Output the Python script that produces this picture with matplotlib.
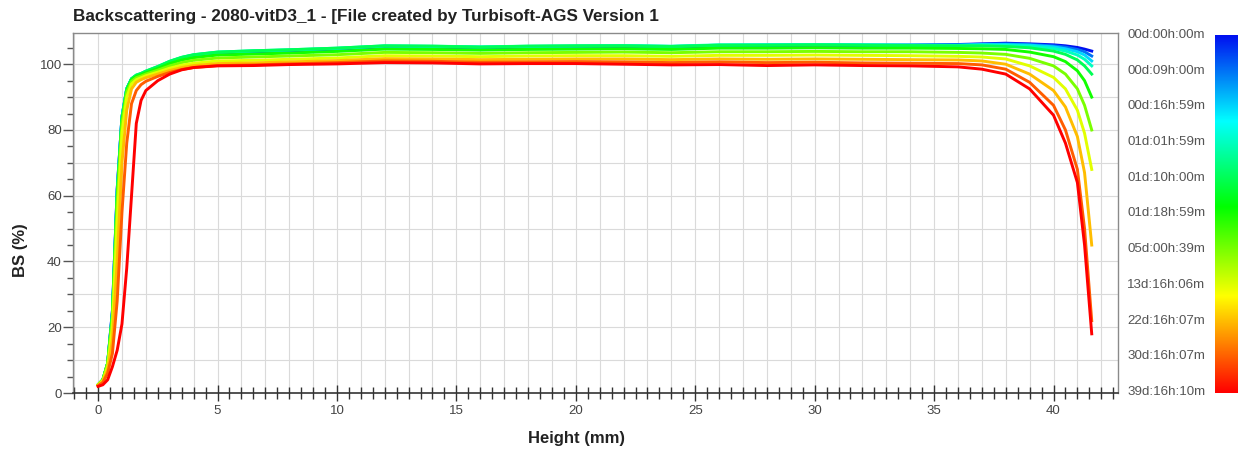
import numpy as np
import matplotlib
matplotlib.use("Agg")
import matplotlib.pyplot as plt
from matplotlib.colors import LinearSegmentedColormap
from matplotlib.ticker import MultipleLocator

plt.rcParams['font.family'] = ['Liberation Sans', 'DejaVu Sans']

# ---------------- data ----------------
title = "Backscattering - 2080-vitD3_1 - [File created by Turbisoft-AGS Version 1"

time_labels = ["00d:00h:00m", "00d:09h:00m", "00d:16h:59m", "01d:01h:59m",
               "01d:10h:00m", "01d:18h:59m", "05d:00h:39m", "13d:16h:06m",
               "22d:16h:07m", "30d:16h:07m", "39d:16h:10m"]

height_mm = [0, 0.2, 0.4, 0.6, 0.8, 1.0, 1.2, 1.4, 1.6, 1.8, 2.0, 2.5, 3.0, 3.5, 4.0,
             5.0, 6.5, 8.0, 10.0, 12.0, 14.0, 16.0, 18.0, 20.0, 22.0, 24.0, 26.0, 28.0,
             30.0, 32.0, 34.0, 36.0, 37.0, 38.0, 39.0, 40.0, 40.5, 41.0, 41.3, 41.6]

bs_00d00h = [2.5, 4, 9, 25, 62, 84, 92.5, 95.5, 96.5, 97, 97.6, 99, 100.6, 101.8, 102.6,
             103.4, 103.8, 104.1, 104.6, 105.3, 105.2, 105.0, 105.2, 105.3, 105.4, 105.2,
             105.6, 105.7, 105.8, 105.7, 105.8,
             106.0, 106.2, 106.4, 106.2, 105.9, 105.6, 105.1, 104.6, 104.0]
bs_00d09h = [2.5, 4, 9, 25, 62, 84, 92.5, 95.5, 96.5, 97, 97.7, 99.1, 100.7, 101.9, 102.7,
             103.5, 103.9, 104.2, 104.7, 105.4, 105.3, 105.1, 105.3, 105.4, 105.5, 105.3,
             105.7, 105.8, 105.9, 105.8, 105.8,
             105.9, 106.1, 106.2, 106.0, 105.6, 105.2, 104.5, 103.8, 102.5]
bs_00d17h = [2.5, 4, 9, 24, 61, 84, 92.5, 95.5, 96.6, 97.1, 97.8, 99.2, 100.8, 102.0, 102.8,
             103.6, 104.0, 104.3, 104.8, 105.5, 105.4, 105.2, 105.4, 105.5, 105.6, 105.4,
             105.8, 105.9, 106.0, 105.9, 105.8,
             105.8, 106.0, 106.0, 105.8, 105.3, 104.7, 103.8, 102.8, 101.0]
bs_01d02h = [2.5, 4, 9, 24, 61, 84, 92.6, 95.6, 96.7, 97.2, 97.9, 99.3, 100.9, 102.1, 102.9,
             103.7, 104.1, 104.4, 104.9, 105.6, 105.5, 105.3, 105.5, 105.6, 105.7, 105.5,
             105.9, 105.9, 106.0, 105.9, 105.8,
             105.7, 105.8, 105.7, 105.5, 104.8, 104.0, 102.8, 101.5, 99.5]
bs_01d10h = [2.5, 4, 9, 24, 60, 83, 92.5, 95.6, 96.7, 97.2, 97.9, 99.3, 100.9, 102.1, 102.9,
             103.7, 104.1, 104.4, 104.9, 105.6, 105.5, 105.2, 105.5, 105.6, 105.6, 105.4,
             105.8, 105.8, 105.9, 105.8, 105.7,
             105.6, 105.6, 105.4, 105.0, 104.0, 103.0, 101.3, 99.5, 97.0]
bs_01d19h = [2.5, 4, 9, 23, 59, 83, 92, 95.2, 96.3, 96.8, 97.4, 98.7, 100.2, 101.3, 102.0,
             102.8, 103.1, 103.4, 103.9, 104.6, 104.5, 104.3, 104.5, 104.6, 104.7, 104.5,
             104.9, 104.9, 105.0, 104.9, 104.9,
             104.8, 104.7, 104.5, 103.7, 102.3, 100.8, 98.0, 95.0, 90.0]
bs_05d01h = [2.5, 4, 9, 23, 58, 82, 91.5, 94.8, 95.9, 96.4, 97.0, 98.2, 99.5, 100.5, 101.2,
             101.9, 102.2, 102.5, 102.9, 103.6, 103.5, 103.3, 103.5, 103.6, 103.7, 103.5,
             103.8, 103.8, 103.9, 103.8, 103.8,
             103.6, 103.4, 103.0, 101.8, 99.5, 97.0, 92.5, 87.5, 80.0]
bs_13d16h = [2.5, 3.8, 8, 20, 52, 79, 90, 94, 95.3, 95.9, 96.5, 97.6, 98.8, 99.7, 100.3,
             101.0, 101.2, 101.5, 101.9, 102.6, 102.5, 102.3, 102.5, 102.6, 102.6, 102.4,
             102.7, 102.7, 102.8, 102.7, 102.6,
             102.4, 102.2, 101.6, 99.5, 96.0, 92.5, 86.0, 79.0, 68.0]
bs_22d16h = [2.3, 3.5, 7, 16, 40, 70, 86, 92.5, 94.5, 95.3, 95.9, 97.0, 98.1, 99.0, 99.6,
             100.2, 100.4, 100.7, 101.1, 101.7, 101.6, 101.4, 101.5, 101.6, 101.6, 101.4,
             101.6, 101.5, 101.6, 101.5, 101.4,
             101.3, 101.0, 100.0, 97.0, 92.0, 87.0, 78.0, 67.0, 45.0]
bs_30d16h = [2.2, 3.2, 6, 12, 28, 55, 76, 88, 92, 93.8, 94.8, 96.3, 97.5, 98.4, 99.0,
             99.6, 99.8, 100.1, 100.5, 101.0, 100.9, 100.6, 100.7, 100.8, 100.7, 100.5,
             100.7, 100.5, 100.6, 100.4, 100.3,
             100.2, 99.8, 98.5, 94.5, 87.5, 80.0, 68.0, 50.0, 22.0]
bs_39d16h = [2.0, 2.5, 4, 8, 13, 21, 38, 60, 82, 89, 92, 95, 97, 98.3, 99.0,
             99.5, 99.6, 99.9, 100.1, 100.5, 100.4, 100.1, 100.2, 100.2, 100.0, 99.8,
             99.9, 99.6, 99.8, 99.6, 99.5,
             99.2, 98.5, 97.0, 92.5, 84.5, 76.0, 64.0, 45.0, 18.0]

series = [bs_00d00h, bs_00d09h, bs_00d17h, bs_01d02h, bs_01d10h, bs_01d19h,
          bs_05d01h, bs_13d16h, bs_22d16h, bs_30d16h, bs_39d16h]

# ---------------- figure ----------------
W, H = 1249, 450
fig = plt.figure(figsize=(W / 100, H / 100), dpi=100)

def fx(px):
    return px / W

def fy(py):
    return 1 - py / H

ax_l, ax_r, ax_t, ax_b = 73, 1118, 33, 393
ax = fig.add_axes([fx(ax_l), fy(ax_b), fx(ax_r - ax_l), (ax_b - ax_t) / H])

cmap = LinearSegmentedColormap.from_list(
    'turbi', [(0.0, '#ff0000'), (0.27, '#ffff00'), (0.52, '#00ff00'),
              (0.76, '#00ffff'), (1.0, '#0010f0')])

n = len(series)
for i, ys in enumerate(series):
    ax.plot(height_mm, ys, color=cmap(1 - i / (n - 1)), lw=2.1,
            solid_joinstyle='round', zorder=3 + i, label=time_labels[i])

ax.set_xlim(-1.05, 42.7)
ax.set_ylim(0, 109.5)

ax.xaxis.set_major_locator(MultipleLocator(5))
ax.xaxis.set_minor_locator(MultipleLocator(0.5))
ax.yaxis.set_major_locator(MultipleLocator(20))
ax.yaxis.set_minor_locator(MultipleLocator(5))

# grid lines
for gx in range(-1, 43):
    ax.axvline(gx, color='#dadada', lw=0.8, zorder=1)
for gy in range(10, 110, 10):
    ax.axhline(gy, color='#dadada', lw=0.8, zorder=1)

ax.tick_params(axis='x', which='major', direction='inout', length=11, width=1.0,
               color='#333333', labelsize=9.5, labelcolor='#444444', pad=3)
ax.tick_params(axis='x', which='minor', direction='inout', length=9, width=1.0,
               color='#333333')
ax.tick_params(axis='y', which='major', direction='out', length=7, width=1.0,
               color='#555555', labelsize=9.5, labelcolor='#444444', pad=1)
ax.tick_params(axis='y', which='minor', direction='out', length=4, width=1.0,
               color='#555555')

for side in ['top', 'right', 'left']:
    ax.spines[side].set_color('#8a8a8a')
    ax.spines[side].set_linewidth(1.0)
ax.spines['bottom'].set_color('#333333')
ax.spines['bottom'].set_linewidth(1.2)

fig.text(fx(73), fy(17), title, fontsize=12.3, fontweight='bold',
         color='#222222', ha='left', va='center')
fig.text(fx(576), fy(438), "Height (mm)", fontsize=12, fontweight='bold',
         color='#222222', ha='center', va='center')
fig.text(fx(20), fy(250), "BS (%)", fontsize=12, fontweight='bold',
         color='#222222', ha='center', va='center', rotation=90)

# colour bar
cax = fig.add_axes([fx(1215), fy(393), fx(23), (393 - 35) / H])
grad = np.linspace(0, 1, 256).reshape(-1, 1)
cax.imshow(grad, aspect='auto', cmap=cmap, origin='lower')
cax.set_axis_off()

ytop, ybot = 35, 392
for i, lab in enumerate(time_labels):
    py = ytop + i * (ybot - ytop) / (n - 1)
    fig.text(fx(1127), fy(py), lab, fontsize=9.6, color='#555555',
             ha='left', va='center')

fig.savefig("out.png", dpi=100, facecolor='white')
